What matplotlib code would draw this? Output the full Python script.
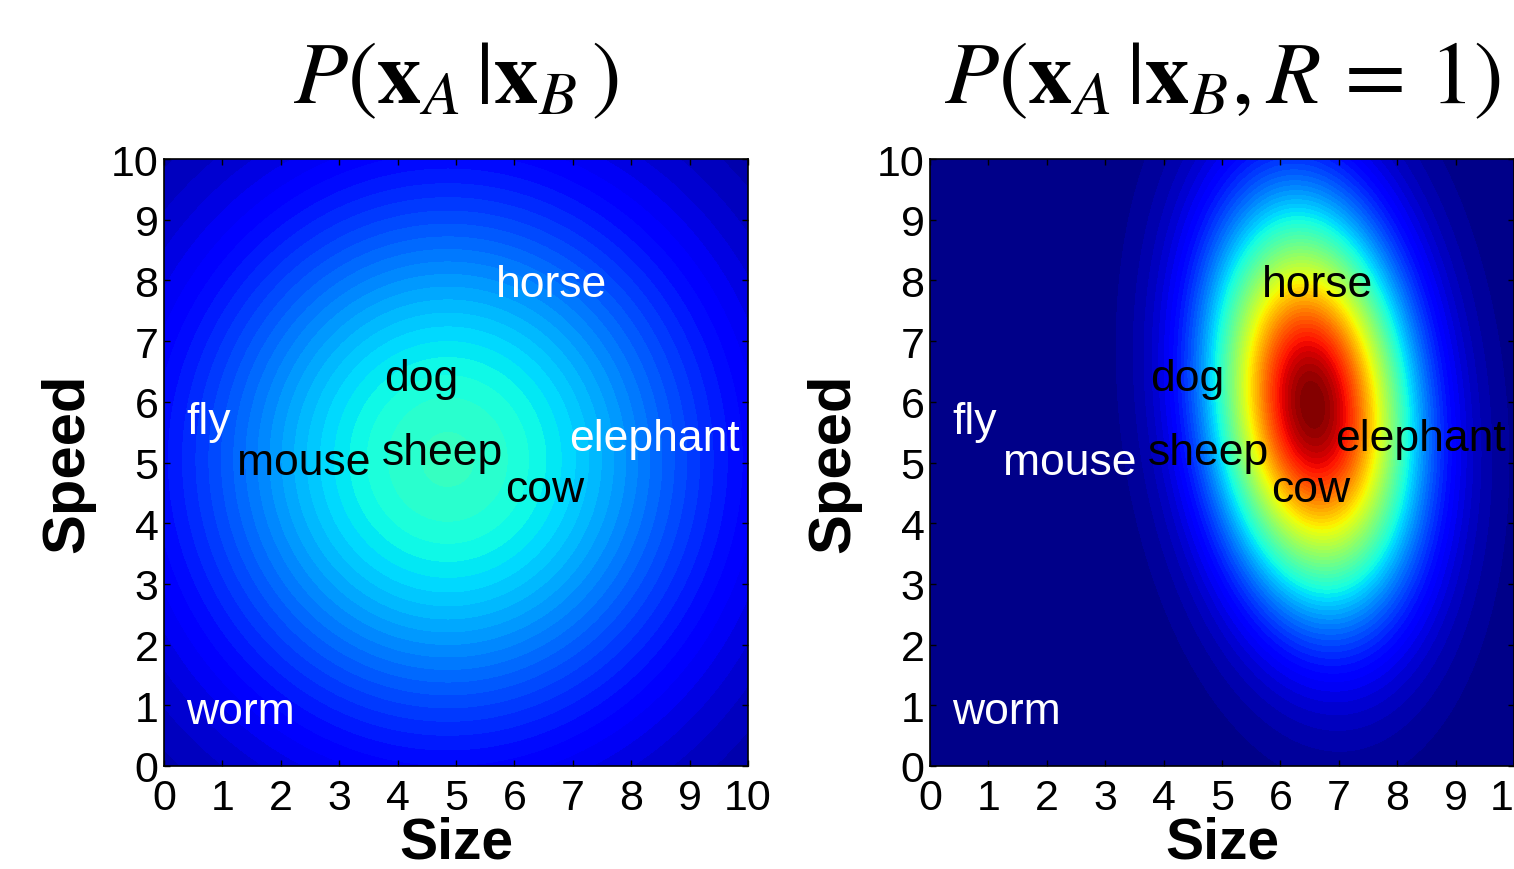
import numpy as np
import matplotlib
matplotlib.use('Agg')
import matplotlib.pyplot as plt

plt.rcParams['font.family'] = ['Liberation Sans', 'DejaVu Sans']
plt.rcParams['mathtext.fontset'] = 'stix'

# animal labels (size, speed) as placed in the figure
animals = ['fly', 'mouse', 'sheep', 'dog', 'horse', 'elephant', 'cow', 'worm']
sizes = [0.39, 1.25, 3.73, 3.77, 5.68, 6.93, 5.84, 0.38]
speeds = [5.67, 5.00, 5.17, 6.38, 7.94, 5.39, 4.56, 0.89]
left_colors = ['white', 'black', 'black', 'black', 'white', 'white', 'black', 'white']
right_colors = ['white', 'white', 'black', 'black', 'black', 'black', 'black', 'white']

# gaussian fits (colour scale 0..1)
left_mean = [4.86, 5.05]
left_cov = [[10.7, 0.0], [0.0, 10.7]]
left_peak = 0.41
right_mean = [6.55, 5.95]
right_cov = [[1.36, -0.38], [-0.38, 4.7]]
right_peak = 1.0

titles = [r'$P(\mathbf{x}_A\,|\mathbf{x}_B\,)$',
          r'$P(\mathbf{x}_A\,|\mathbf{x}_B, R\,=\,1)$']
ticks = list(range(0, 11))


def gauss_field(mean, cov, peak, X, Y):
    inv = np.linalg.inv(np.array(cov))
    dx = X - mean[0]
    dy = Y - mean[1]
    q = inv[0, 0] * dx**2 + 2 * inv[0, 1] * dx * dy + inv[1, 1] * dy**2
    return peak * np.exp(-0.5 * q)


xs = np.linspace(0, 10, 301)
X, Y = np.meshgrid(xs, xs)
fields = [gauss_field(left_mean, left_cov, left_peak, X, Y),
          gauss_field(right_mean, right_cov, right_peak, X, Y)]
colors = [left_colors, right_colors]

fig = plt.figure(figsize=(15.14, 8.70), dpi=100)
W, H = 1514.0, 870.0
lefts = [164, 930]
levels = np.linspace(0, 1, 65)

for i in range(2):
    ax = fig.add_axes([lefts[i] / W, (H - 767) / H, 584 / W, 607 / H])
    ax.contourf(X, Y, fields[i], levels=levels, cmap='jet', vmin=0, vmax=1)
    ax.set_xlim(0, 10)
    ax.set_ylim(0, 10)
    ax.set_xticks(ticks)
    ax.set_yticks(ticks)
    ax.tick_params(direction='in', top=True, right=True, length=4, width=1,
                   labelsize=31)
    ax.tick_params(axis='x', pad=9)
    ax.tick_params(axis='y', pad=4)
    for s in ax.spines.values():
        s.set_linewidth(1.2)
    ax.set_xlabel('Size', fontsize=41, fontweight='bold', labelpad=-2)
    ax.set_ylabel('Speed', fontsize=43, fontweight='bold', labelpad=11)
    for name, sx, sy, c in zip(animals, sizes, speeds, colors[i]):
        ax.text(sx, sy, name, color=c, fontsize=32, ha='left', va='center')
    fig.text((lefts[i] + 292) / W, (H - 103) / H, titles[i], fontsize=64,
             ha='center', va='baseline')

fig.savefig('out.png', dpi=100)
